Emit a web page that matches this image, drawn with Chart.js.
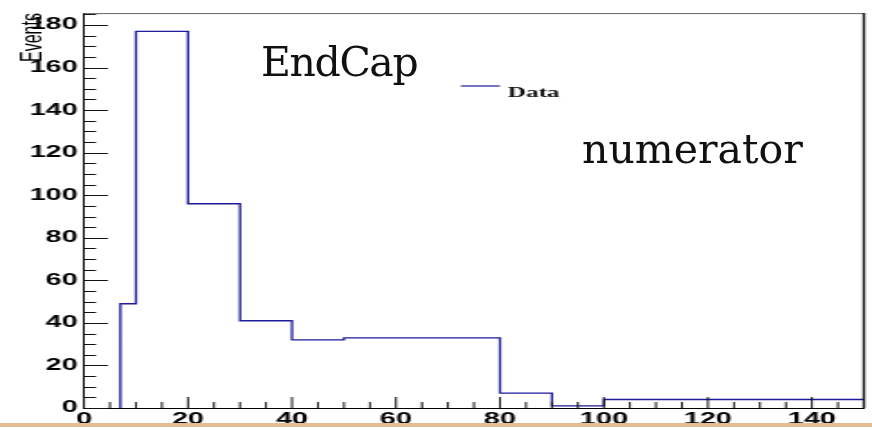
<!DOCTYPE html>
<html>
<head>
<meta charset="utf-8">
<script src="https://cdn.jsdelivr.net/npm/chart.js@4.4.0/dist/chart.umd.min.js"></script>
<style>
  html, body { margin: 0; padding: 0; background: #fff; overflow: hidden; }
  #page { position: relative; width: 872px; height: 430px; }
  /* the original picture was stretched sideways, so the chart is drawn narrow and widened */
  #stretch { position: absolute; left: 0; top: 0; width: 484px; height: 430px; transform: scaleX(1.8017); transform-origin: 0 0; }
  .note { position: absolute; font-family: "DejaVu Serif", serif; font-size: 41px; line-height: 41px; color: #111; white-space: nowrap; }
  #bar { position: absolute; left: 0; top: 423px; width: 872px; height: 4px; background: #e2bc94; }
</style>
</head>
<body>
<div id="page">
  <div id="stretch"><canvas id="histChart" width="484" height="430"></canvas></div>
  <div class="note" style="left:261px; top:42px; letter-spacing:-1.4px;">EndCap</div>
  <div class="note" style="left:582px; top:129px;">numerator</div>
  <div id="bar"></div>
</div>
<script>
// Histogram bins
const binEdges = [7, 10, 20, 30, 40, 50, 60, 70, 80, 90, 100, 150];
const binCounts = [49, 177, 96, 41, 32, 33, 33, 33, 7, 1, 4];
const xTicks = [0, 20, 40, 60, 80, 100, 120, 140];
const yTicks = [0, 20, 40, 60, 80, 100, 120, 140, 160, 180];
const seriesName = 'Data';

// step outline: start on the axis, then one point per lower bin edge, close at the last upper edge
const points = [{ x: binEdges[0], y: 0 }];
binCounts.forEach((c, i) => points.push({ x: binEdges[i], y: c }));
points.push({ x: binEdges[binEdges.length - 1], y: binCounts[binCounts.length - 1] });

const lineColor = '#1c1c9c';

// ROOT style frame: ticks inside the box, top/right border, legend box entry
const rootFrame = {
    id: 'rootFrame',
    afterDatasetsDraw(chart) {
        const { ctx, chartArea: a, scales: { x, y } } = chart;
        ctx.save();
        ctx.strokeStyle = '#111';
        ctx.lineWidth = 1;
        ctx.beginPath();
        for (let v = 0; v <= y.max; v += 5) {
            const py = Math.round(y.getPixelForValue(v)) + 0.5;
            const len = yTicks.includes(v) ? 13.3 : 6.7;
            ctx.moveTo(a.left, py);
            ctx.lineTo(a.left + len, py);
        }
        for (let v = 0; v <= x.max; v += 5) {
            const px = x.getPixelForValue(v);
            const len = xTicks.includes(v) ? 11 : 6;
            ctx.moveTo(px, a.bottom);
            ctx.lineTo(px, a.bottom - len);
        }
        ctx.stroke();

        // top and right border of the frame
        ctx.strokeStyle = '#666';
        ctx.beginPath();
        ctx.moveTo(a.left, a.top + 0.5);
        ctx.lineTo(a.right, a.top + 0.5);
        ctx.stroke();
        ctx.strokeStyle = '#111';
        ctx.lineWidth = 1.4;
        ctx.beginPath();
        ctx.moveTo(a.right, a.top);
        ctx.lineTo(a.right, a.bottom);
        ctx.stroke();

        // legend entry
        ctx.strokeStyle = lineColor;
        ctx.lineWidth = 1.2;
        ctx.beginPath();
        ctx.moveTo(255.7, 86);
        ctx.lineTo(277.5, 86);
        ctx.stroke();
        ctx.fillStyle = '#111';
        ctx.font = 'bold 14px "Liberation Serif"';
        ctx.textBaseline = 'alphabetic';
        ctx.fillText(chart.data.datasets[0].label, 281.8, 97);
        ctx.restore();
    }
};

document.addEventListener('DOMContentLoaded', () => {
    const ctx = document.getElementById('histChart').getContext('2d');
    new Chart(ctx, {
        type: 'line',
        data: {
            datasets: [{
                label: seriesName,
                data: points,
                borderColor: lineColor,
                borderWidth: 1.3,
                stepped: true,
                pointRadius: 0,
                fill: false
            }]
        },
        options: {
            responsive: false,
            animation: false,
            layout: { padding: { top: 12, right: 4.5, left: 0, bottom: 0 } },
            plugins: {
                legend: { display: false },
                tooltip: { enabled: false }
            },
            scales: {
                x: {
                    type: 'linear',
                    min: 0,
                    max: 150,
                    grid: { display: false, drawTicks: false },
                    border: { display: true, color: '#000', width: 1 },
                    afterBuildTicks: s => { s.ticks = xTicks.map(v => ({ value: v })); },
                    afterFit: s => { s.height = 22; },
                    ticks: {
                        autoSkip: false,
                        maxRotation: 0,
                        padding: 2,
                        color: '#000',
                        font: { family: 'Liberation Sans', size: 16, weight: 'bold' }
                    }
                },
                y: {
                    min: 0,
                    max: 185.6,
                    grid: { display: false, drawTicks: false },
                    border: { display: true, color: '#000', width: 1 },
                    afterBuildTicks: s => { s.ticks = yTicks.map(v => ({ value: v })); },
                    afterFit: s => { s.width = 46.6; },
                    ticks: {
                        padding: 3.5,
                        color: '#000',
                        font: { family: 'Liberation Sans', size: 16, weight: 'bold' }
                    },
                    title: {
                        display: true,
                        text: 'Events',
                        align: 'end',
                        color: '#000',
                        font: { family: 'Liberation Sans', size: 16, lineHeight: 1 },
                        padding: { top: 10.3, bottom: 0 }
                    }
                }
            }
        },
        plugins: [rootFrame]
    });
});
</script>
</body>
</html>
